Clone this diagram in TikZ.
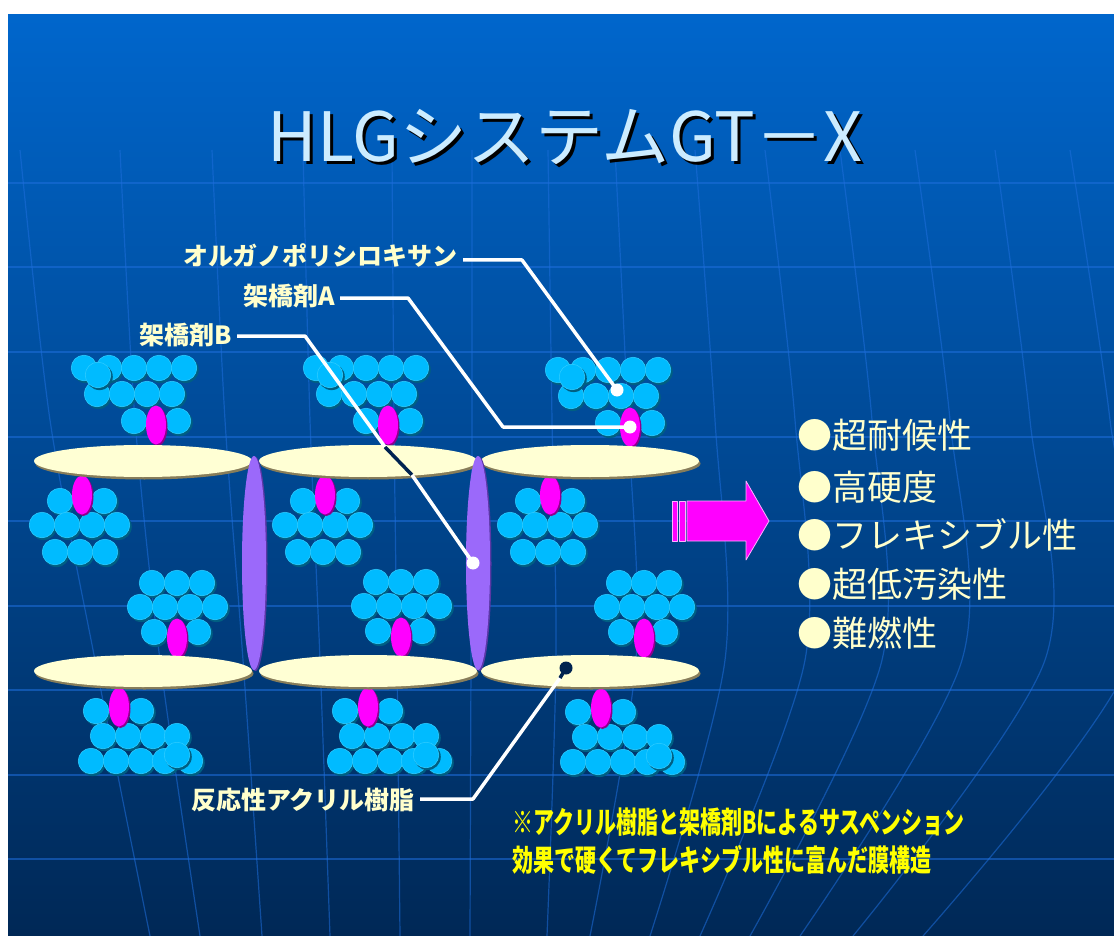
\documentclass[tikz,border=0pt]{standalone}
\usepackage{fontspec}
\setmainfont{Noto Sans CJK JP}
\usetikzlibrary{calc}

\definecolor{bgtop}{RGB}{0,102,204}
\definecolor{bgmid}{RGB}{0,78,160}
\definecolor{bgbot}{RGB}{0,40,86}
\definecolor{gridblue}{RGB}{30,110,220}
\definecolor{sphblue}{RGB}{0,187,255}
\definecolor{sphrim}{RGB}{50,205,255}
\definecolor{sphdark}{RGB}{0,95,130}
\definecolor{cream}{RGB}{255,255,212}
\definecolor{creamdark}{RGB}{135,125,90}
\definecolor{linkpink}{RGB}{255,0,255}
\definecolor{linkdark}{RGB}{140,0,140}
\definecolor{rodviolet}{RGB}{155,105,250}
\definecolor{roddark}{RGB}{90,55,165}
\definecolor{labelcream}{RGB}{255,255,204}
\definecolor{titleblue}{RGB}{204,236,255}
\definecolor{leadnavy}{RGB}{0,35,80}
\definecolor{noteyellow}{RGB}{255,255,0}

\begin{document}
\begin{tikzpicture}[x=1pt,y=-1pt,line join=round,
  ball/.style={fill=sphblue,draw=sphrim,line width=0.5pt},
  ballshade/.style={fill=sphdark},
  link/.style={fill=linkpink},
  linkshade/.style={fill=linkdark},
  disc/.style={fill=cream},
  discshade/.style={fill=creamdark},
  rod/.style={fill=rodviolet},
  rodshade/.style={fill=roddark},
  lead/.style={draw=white,line width=3.5pt},
  leaddark/.style={draw=leadnavy,line width=3.5pt},
  grid line/.style={draw=gridblue,line width=1.2pt,opacity=0.55},
  title/.style={font=\fontsize{68}{80}\selectfont,text=titleblue,inner sep=0pt},
  tag/.style={font=\bfseries\fontsize{25}{30}\selectfont,text=labelcream,inner xsep=5pt,inner ysep=0pt,anchor=east},
  perk/.style={font=\fontsize{35}{42}\selectfont,text=labelcream,inner sep=0pt,anchor=west},
  note/.style={font=\bfseries\fontsize{30}{36}\selectfont,text=noteyellow,inner sep=0pt,anchor=west},
  pics/balls/.style={code={
    \foreach \p/\q in {#1}{
      \fill[ballshade] (\p+1.5,\q+1.8) circle (13.3);
      \fill[ball] (\p,\q) circle (12.8);
    }}},
  pics/link/.style={code={
    \fill[linkshade] (1.5,1.5) ellipse (10 and 19.5);
    \fill[link] (0,0) ellipse (10 and 19.5);}},
  % siloxane clusters, origin at the crosslinker
  pics/hangup/.style={code={
    \pic {balls={-72/-57,-47/-57,-22/-57,3/-57,28/-57,-59/-31,-34/-31,-9/-31,16/-31,-22/-4,22/-4,-58/-50}};
    \pic {link};}},
  pics/hangdown/.style={code={
    \pic {balls={-22/6,22/6,-40/30,-15/30,10/30,35/30,-27/57,-2/57,23/57}};
    \pic {link};}},
  pics/situp/.style={code={
    \pic {balls={-25/-55,0/-55,25/-55,-37/-31,-12/-31,13/-31,38/-31,-23/-6,21/-6}};
    \pic {link};}},
  pics/sitdown/.style={code={
    \pic {balls={-23/4,22/4,-16/29,9/29,34/29,58/29,-28/54,-3/54,22/54,46/54,71/54,58/48}};
    \pic {link};}},
  ]
  \useasboundingbox (0,0) rectangle (1114,936);
  \fill[white] (0,0) rectangle (1114,936);
  \shade[top color=bgtop,middle color=bgmid,bottom color=bgbot] (8,15) rectangle (1114,936);

  % globe grid
  \begin{scope}
    \clip (8,150) rectangle (1114,936);
    \foreach \y in {183,267,352,437,521,606,690,775,859}
      \draw[grid line] (8,\y) -- (1114,\y);
    \foreach \a/\b/\c/\d in {20/50/95/150,120/135/160/200,212/225/243/262,303/310/320/330,
        392/394/397/400,472/472/471/470,548/552/556/547,615/628/636/590,695/715/725/650,
        765/795/805/700,840/872/882/750,915/950/962/800,995/1030/1045/853,1070/1110/1130/923}
      \draw[grid line] plot[smooth] coordinates {(\a,150) (\b,420) (\c,660) (\d,936)};
  \end{scope}

  \node[title,text=black] (titleS) at (568,140) {HLGシステムGT－X};
  \node[title] (titleT) at (565,137) {HLGシステムGT－X};

  % clusters
  \pic at (156,425) {hangup};
  \pic at (388,425) {hangup};
  \pic at (630,427) {hangup};
  \pic at (82,495) {hangdown};
  \pic at (325,495) {hangdown};
  \pic at (550,495) {hangdown};
  \pic at (177,638) {situp};
  \pic at (401,637) {situp};
  \pic at (644,638) {situp};
  \pic at (119,707) {sitdown};
  \pic at (368,707) {sitdown};
  \pic at (601,708) {sitdown};

  % acrylic discs
  \foreach \x in {143,368,590}{
    \fill[discshade] (\x+1.5,461+2.5) ellipse (109 and 16);
    \fill[disc] (\x,461) ellipse (109 and 16);
    \fill[discshade] (\x+1.5,671+2.5) ellipse (109 and 16);
    \fill[disc] (\x,671) ellipse (109 and 16);
  }
  % crosslinker B rods
  \foreach \x in {254,478}{
    \fill[rodshade] (\x+1.5,563+1) ellipse (12 and 107);
    \fill[rod] (\x,563) ellipse (12 and 107);
  }

  % arrow
  \filldraw[fill=linkpink,draw=white!70!linkpink,line width=0.8pt]
    (687,501) -- (746,501) -- (746,481) -- (769,521) -- (746,560) -- (746,541) -- (687,541) -- cycle;
  \filldraw[fill=linkpink,draw=white!70!linkpink,line width=0.8pt] (672,501) rectangle (677,541);
  \filldraw[fill=linkpink,draw=white!70!linkpink,line width=0.8pt] (679,501) rectangle (685,541);

  \node[perk] (p1) at (797,435) {●超耐候性};
  \node[perk] (p2) at (797,487) {●高硬度};
  \node[perk] (p3) at (797,535) {●フレキシブル性};
  \node[perk] (p4) at (797,584) {●超低汚染性};
  \node[perk] (p5) at (797,633) {●難燃性};

  % labels and leaders
  \node[tag] (orgL) at (463,255) {オルガノポリシロキサン};
  \node[tag] (aL) at (340,296) {架橋剤A};
  \node[tag] (bL) at (237,335) {架橋剤B};
  \node[tag] (rL) at (420,800) {反応性アクリル樹脂};
  \coordinate (orgK) at (522,260);
  \coordinate (orgP) at (617,390);
  \coordinate (aK) at (408,298);
  \coordinate (aM) at (503,427);
  \coordinate (aP) at (630,427);
  \coordinate (bK) at (305,336);
  \coordinate (bM) at (385,447);
  \coordinate (bN) at (412,475);
  \coordinate (bP) at (473,563);
  \coordinate (rK) at (473,799);
  \coordinate (rM) at (560,678);
  \coordinate (rP) at (566,668);
  \draw[lead] (orgL.east |- orgK) -- (orgK) -- (orgP);
  \fill[white] (orgP) circle (6.5);
  \draw[lead] (aL.east |- aK) -- (aK) -- (aM) -- (aP);
  \fill[white] (aP) circle (6.5);
  \draw[lead] (bL.east |- bK) -- (bK) -- (bM);
  \draw[leaddark] (bM) -- (bN);
  \draw[lead] (bN) -- (bP);
  \fill[white] (bP) circle (6.5);
  \draw[lead] (rL.east |- rK) -- (rK) -- (rM);
  \draw[leaddark] (rM) -- (rP);
  \fill[leadnavy] (rP) circle (6.5);

  \node[note] (n1) at (512,822) {\scalebox{0.7}[1]{※アクリル樹脂と架橋剤Bによるサスペンション}};
  \node[note] (n2) at (512,860) {\scalebox{0.7}[1]{効果で硬くてフレキシブル性に富んだ膜構造}};
\end{tikzpicture}
\end{document}
